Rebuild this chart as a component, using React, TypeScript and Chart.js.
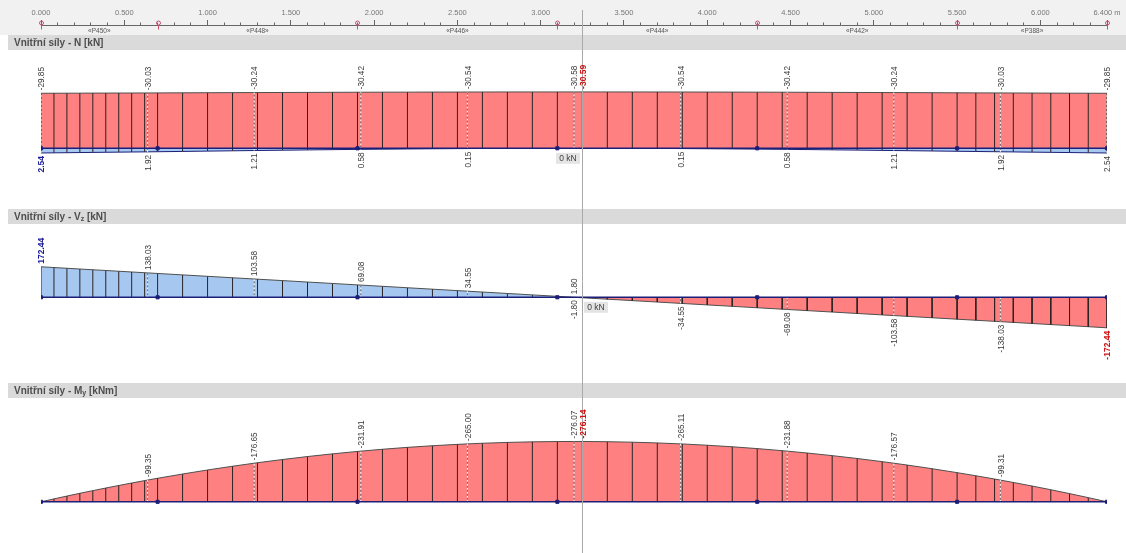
import React, { useEffect, useRef } from "react";
import { Chart, registerables } from "chart.js";

Chart.register(...registerables);

const W = 1126;
const H = 553;
const FONT = 'Arial, "Liberation Sans", sans-serif';

// ---------------- data ----------------
// division stations along the beam [m]
const stations = [
  0, 0.0778, 0.1556, 0.2333, 0.3111, 0.3889, 0.4667, 0.5444, 0.6222, 0.7,
  0.85, 1.0, 1.15, 1.3, 1.45, 1.6, 1.75, 1.9,
  2.05, 2.2, 2.35, 2.5, 2.65, 2.8, 2.95, 3.1,
  3.25, 3.4, 3.55, 3.7, 3.85, 4.0, 4.15, 4.3,
  4.45, 4.6, 4.75, 4.9, 5.05, 5.2, 5.35, 5.5,
  5.6125, 5.725, 5.8375, 5.95, 6.0625, 6.175, 6.2875, 6.4,
];

// N [kN] – minimum (red) and maximum (blue)
const nMin = [
  -29.85, -29.87, -29.89, -29.92, -29.94, -29.96, -29.98, -30.0, -30.02, -30.05,
  -30.1, -30.15, -30.2, -30.25, -30.29, -30.33, -30.38, -30.42,
  -30.45, -30.48, -30.51, -30.53, -30.55, -30.57, -30.58, -30.58,
  -30.59, -30.58, -30.57, -30.56, -30.54, -30.52, -30.49, -30.46,
  -30.43, -30.39, -30.34, -30.3, -30.26, -30.21, -30.16, -30.11,
  -30.07, -30.04, -30.01, -29.98, -29.94, -29.91, -29.88, -29.85,
];
const nMax = [
  2.54, 2.46, 2.39, 2.31, 2.23, 2.16, 2.08, 2.01, 1.94, 1.86,
  1.7, 1.53, 1.36, 1.19, 1.04, 0.88, 0.73, 0.59,
  0.47, 0.36, 0.26, 0.17, 0.1, 0.05, 0.02, 0.0,
  0.0, 0.01, 0.04, 0.08, 0.15, 0.23, 0.33, 0.44,
  0.56, 0.69, 0.83, 0.98, 1.13, 1.29, 1.45, 1.61,
  1.73, 1.85, 1.97, 2.08, 2.2, 2.31, 2.43, 2.54,
];
// Vz [kN]
const vz = [
  172.44, 168.25, 164.06, 159.88, 155.69, 151.5, 147.31, 143.12, 138.93, 134.75,
  126.67, 118.59, 110.51, 102.44, 94.36, 86.28, 78.2, 70.13,
  62.05, 53.97, 45.89, 37.82, 29.74, 21.66, 13.58, 5.5,
  -2.57, -10.65, -18.73, -26.81, -34.88, -42.96, -51.04, -59.12,
  -67.19, -75.27, -83.35, -91.43, -99.5, -107.58, -115.66, -123.74,
  -129.8, -135.85, -141.91, -147.97, -154.03, -160.08, -166.14, -172.44,
];
// My [kNm]
const my = [
  0, -13.26, -26.2, -38.79, -51.07, -63.02, -74.65, -85.94, -96.92, -107.57,
  -127.18, -145.58, -162.77, -178.74, -193.51, -207.05, -219.39, -230.51,
  -240.42, -249.11, -256.59, -262.86, -267.92, -271.76, -274.39, -275.8,
  -276.14, -275.0, -272.77, -269.33, -264.68, -258.82, -251.74, -243.45,
  -233.95, -223.23, -211.3, -198.16, -183.8, -168.23, -151.45, -133.45,
  -119.16, -104.18, -88.53, -72.19, -55.16, -37.46, -19.07, 0,
];

const nodes = [0, 0.7, 1.9, 3.1, 4.3, 5.5, 6.4];
const pipeNames = ["«P450»", "«P448»", "«P446»", "«P444»", "«P442»", "«P388»"];

// labelled result points
const labelStations = [0, 0.64, 1.28, 1.92, 2.56, 3.2, 3.84, 4.48, 5.12, 5.76, 6.4];
const nMinLabels = [-29.85, -30.03, -30.24, -30.42, -30.54, -30.58, -30.54, -30.42, -30.24, -30.03, -29.85];
const nMaxLabels = [2.54, 1.92, 1.21, 0.58, 0.15, 0, 0.15, 0.58, 1.21, 1.92, 2.54];
const vzLabels = [172.44, 138.03, 103.58, 69.08, 34.55, 1.8, -34.55, -69.08, -103.58, -138.03, -172.44];
const myLabels = [0, -99.35, -176.65, -231.91, -265.0, -276.07, -265.11, -231.88, -176.57, -99.31, 0];

const extremeStation = 3.25;
const nExtreme = -30.59;
const myExtreme = -276.14;
const vzZeroStation = 3.2;
const vzSplitLabel = -1.8;
const cursorStation = 3.25;

// ---------------- layout of the three diagram strips ----------------
// base: pixel row of the zero line, k: pixels per unit, reverse: negative values drawn upwards
const strips: Record<string, { base: number; k: number; reverse: boolean }> = {
  yN: { base: 148.3, k: 1.843, reverse: true },
  yV: { base: 297.3, k: 0.1769, reverse: false },
  yM: { base: 501.8, k: 0.2185, reverse: true },
};

// ---------------- styles ----------------
const RED = "rgb(255,128,128)";
const BLUE = "rgb(166,200,240)";
const NAVY = "#1c1f78";
const DIV = "#2a2424";
const EDGE = "#505050";
const LABEL = "#3a3a3a";
const BOLD_BLUE = "#1a1a9a";
const BOLD_RED = "#d01010";

type Pt = { x: number; y: number | null };
const pts = (xs: number[], ys: number[]): Pt[] => xs.map((x, i) => ({ x, y: ys[i] }));
function verticals(xs: number[], from: number[], to: number[]): Pt[] {
  const out: Pt[] = [];
  xs.forEach((x, i) => {
    out.push({ x, y: from[i] }, { x, y: to[i] }, { x, y: null });
  });
  return out;
}
const zerosLike = (a: number[]) => a.map(() => 0);

type Lbl = { axis: string; x: number; at: number; text: string; up: boolean; color?: string; bold?: boolean };

function buildLabels(): Lbl[] {
  const out: Lbl[] = [];
  labelStations.forEach((x, i) => {
    out.push({ axis: "yN", x, at: nMinLabels[i], text: nMinLabels[i].toFixed(2), up: true });
    if (i !== 5) {
      out.push({
        axis: "yN", x, at: nMaxLabels[i], text: nMaxLabels[i].toFixed(2), up: false,
        ...(i === 0 ? { color: BOLD_BLUE, bold: true } : {}),
      });
    }
    const v = vzLabels[i];
    const extra = i === 0 ? { color: BOLD_BLUE, bold: true } : i === 10 ? { color: BOLD_RED, bold: true } : {};
    out.push({ axis: "yV", x, at: i === 5 ? 0 : v, text: v.toFixed(2), up: v > 0, ...extra });
    if (i > 0 && i < 10) {
      out.push({ axis: "yM", x, at: myLabels[i], text: myLabels[i].toFixed(2), up: true });
    }
  });
  out.push({ axis: "yV", x: vzZeroStation, at: 0, text: vzSplitLabel.toFixed(2), up: false });
  out.push({ axis: "yN", x: extremeStation, at: nExtreme, text: nExtreme.toFixed(2), up: true, color: BOLD_RED, bold: true });
  out.push({ axis: "yM", x: extremeStation, at: myExtreme, text: myExtreme.toFixed(2), up: true, color: BOLD_RED, bold: true });
  return out;
}

const headers: { top: number; parts: [string, boolean][] }[] = [
  { top: 35, parts: [["Vnitřní síly - N [kN]", false]] },
  { top: 209, parts: [["Vnitřní síly - V", false], ["z", true], [" [kN]", false]] },
  { top: 383, parts: [["Vnitřní síly - M", false], ["y", true], [" [kNm]", false]] },
];

const zeroBoxes = [
  { axis: "yN", x: 3.2, dx: -6, dy: 10 },
  { axis: "yV", x: 3.2, dx: 22, dy: 10 },
];

function makePlugin(labels: Lbl[]) {
  return {
    id: "decor",
    afterLayout(chart: any) {
      // fix each strip's value range so its zero line and scale land where the reference has them
      for (const id of Object.keys(strips)) {
        const s = chart.scales[id];
        const cfg = strips[id];
        const len = s.bottom - s.top;
        let min: number;
        if (cfg.reverse) min = -(cfg.base - s.top) / cfg.k;
        else min = -(s.bottom - cfg.base) / cfg.k;
        s.min = min;
        s.max = min + len / cfg.k;
        s.configure();
      }
    },
    beforeDraw(chart: any) {
      const ctx = chart.ctx;
      ctx.save();
      ctx.fillStyle = "#ffffff";
      ctx.fillRect(0, 0, W, H);
      ctx.fillStyle = "#f1f1f1";
      ctx.fillRect(0, 0, W, 35);
      for (const h of headers) {
        ctx.fillStyle = "#dadada";
        ctx.fillRect(8, h.top, W - 8, 15);
        let x = 14;
        const cy = h.top + 8;
        ctx.textBaseline = "middle";
        ctx.textAlign = "left";
        ctx.fillStyle = "#4d4d4d";
        for (const [t, sub] of h.parts) {
          ctx.font = sub ? `bold 7px ${FONT}` : `bold 10px ${FONT}`;
          ctx.fillText(t, x, sub ? cy + 2 : cy);
          x += ctx.measureText(t).width;
        }
      }
      ctx.restore();
    },
    afterDatasetsDraw(chart: any) {
      const ctx = chart.ctx;
      const xs = chart.scales.x;
      ctx.save();
      // cursor line
      const cx = Math.round(xs.getPixelForValue(cursorStation)) + 0.5;
      ctx.strokeStyle = "#a9a9a9";
      ctx.lineWidth = 1;
      ctx.beginPath();
      ctx.moveTo(cx, 10);
      ctx.lineTo(cx, H);
      ctx.stroke();

      // value labels
      for (const l of labels) {
        const ys = chart.scales[l.axis];
        const px = xs.getPixelForValue(l.x) + 1;
        const py = ys.getPixelForValue(l.at);
        ctx.save();
        ctx.translate(px, l.up ? py - 3 : py + 3);
        ctx.rotate(-Math.PI / 2);
        ctx.textAlign = l.up ? "left" : "right";
        ctx.textBaseline = "middle";
        ctx.font = l.bold ? `bold 8.5px ${FONT}` : `8.2px ${FONT}`;
        ctx.fillStyle = l.color || LABEL;
        ctx.fillText(l.text, 0, 0);
        ctx.restore();
      }
      // zero boxes
      for (const b of zeroBoxes) {
        const ys = chart.scales[b.axis];
        const bx = xs.getPixelForValue(b.x) + b.dx;
        const by = ys.getPixelForValue(0) + b.dy;
        ctx.fillStyle = "#e4e4e4";
        ctx.fillRect(bx - 12, by - 5.5, 24, 11);
        ctx.fillStyle = "#404040";
        ctx.font = `8.5px ${FONT}`;
        ctx.textAlign = "center";
        ctx.textBaseline = "middle";
        ctx.fillText("0 kN", bx, by);
      }
      ctx.restore();
    },
    afterDraw(chart: any) {
      const ctx = chart.ctx;
      const xs = chart.scales.x;
      ctx.save();
      // support markers on the ruler
      ctx.strokeStyle = "#c8506e";
      ctx.lineWidth = 1;
      for (const n of nodes) {
        const x = Math.round(xs.getPixelForValue(n)) + 0.5;
        ctx.beginPath();
        ctx.moveTo(x, 25);
        ctx.lineTo(x, 29.5);
        ctx.stroke();
        ctx.beginPath();
        ctx.arc(x, 23, 2, 0, Math.PI * 2);
        ctx.stroke();
      }
      // pipe names
      ctx.fillStyle = "#555";
      ctx.font = `6.5px ${FONT}`;
      ctx.textAlign = "center";
      ctx.textBaseline = "middle";
      for (let i = 0; i < pipeNames.length; i++) {
        const x = (xs.getPixelForValue(nodes[i]) + xs.getPixelForValue(nodes[i + 1])) / 2;
        ctx.fillText(pipeNames[i], x, 31);
      }
      ctx.restore();
    },
  };
}

function lineDs(axis: string, data: Pt[], extra: any = {}) {
  return {
    type: "line",
    yAxisID: axis,
    data,
    pointRadius: 0,
    borderWidth: 1,
    fill: false,
    spanGaps: false,
    tension: 0,
    ...extra,
  };
}

export default function App() {
  const ref = useRef<HTMLCanvasElement>(null);

  useEffect(() => {
    document.body.style.margin = "0";
    const canvas = ref.current!;
    const labels = buildLabels();

    const dotted = (axis: string, xs: number[], from: number[], to: number[]) => [
      lineDs(axis, verticals(xs, from, to), { borderColor: "#ffffff", borderDash: [2, 2], order: 5 }),
      lineDs(axis, verticals(xs, from, to), { borderColor: "#707070", borderDash: [2, 2], borderDashOffset: 2, order: 4 }),
    ];
    const inner = labelStations.slice(1, 10);
    const innerZeros = zerosLike(inner);

    const datasets: any[] = [
      // filled diagrams
      lineDs("yN", pts(stations, nMin), { fill: "origin", backgroundColor: RED, borderColor: EDGE, order: 10 }),
      lineDs("yN", pts(stations, nMax), { fill: "origin", backgroundColor: BLUE, borderColor: NAVY, order: 10 }),
      lineDs("yV", pts(stations, vz), { fill: { target: "origin", above: BLUE, below: RED }, borderColor: EDGE, order: 10 }),
      lineDs("yM", pts(stations, my), { fill: "origin", backgroundColor: RED, borderColor: EDGE, order: 10 }),
      // division lines
      lineDs("yN", verticals(stations, nMax, nMin), { borderColor: DIV, order: 6 }),
      lineDs("yV", verticals(stations, zerosLike(stations), vz), { borderColor: DIV, order: 6 }),
      lineDs("yM", verticals(stations, zerosLike(stations), my), { borderColor: DIV, order: 6 }),
      // dotted result lines
      ...dotted("yN", labelStations, nMaxLabels, nMinLabels),
      ...dotted("yV", inner, innerZeros, vzLabels.slice(1, 10)),
      ...dotted("yM", inner, innerZeros, myLabels.slice(1, 10)),
      // base lines
      lineDs("yN", pts([0, 6.4], [0, 0]), { borderColor: NAVY, borderWidth: 1.5, order: 2 }),
      lineDs("yV", pts([0, 6.4], [0, 0]), { borderColor: NAVY, borderWidth: 1.5, order: 2 }),
      lineDs("yM", pts([0, 6.4], [0, 0]), { borderColor: NAVY, borderWidth: 1.5, order: 2 }),
      // nodes
      ...["yN", "yV", "yM"].map((ax) =>
        lineDs(ax, pts(nodes, zerosLike(nodes)), {
          showLine: false,
          pointRadius: 2.2,
          pointStyle: "rect",
          pointBackgroundColor: NAVY,
          pointBorderColor: NAVY,
          order: 1,
        })
      ),
    ];

    const chart = new Chart(canvas, {
      type: "line",
      data: { datasets },
      options: {
        responsive: false,
        animation: false,
        devicePixelRatio: 1,
        events: [],
        layout: { padding: { left: 41, right: 19, top: 0, bottom: 0 } },
        plugins: { legend: { display: false }, tooltip: { enabled: false } },
        scales: {
          x: {
            type: "linear",
            position: "top",
            min: 0,
            max: 6.4,
            bounds: "data",
            afterFit: (s: any) => {
              s.height = 25;
            },
            border: { display: true, color: "#666", width: 1 },
            grid: {
              drawOnChartArea: false,
              drawTicks: true,
              tickLength: 5,
              tickColor: "#666",
              tickBorderDash: (c: any) => {
                const r = Math.round((c.tick ? c.tick.value : 0) * 10);
                return r % 5 === 0 || r === 64 ? [] : [0, 2.5, 2.5, 20];
              },
            },
            ticks: {
              stepSize: 0.1,
              maxTicksLimit: 100,
              autoSkip: false,
              maxRotation: 0,
              minRotation: 0,
              padding: 3,
              color: "#777",
              font: { size: 7.5, family: FONT },
              callback: (v: any) => {
                const r = Math.round(Number(v) * 10);
                if (r === 64) return "6.400 m";
                return r % 5 === 0 ? (r / 10).toFixed(3) : "";
              },
            },
          },
          yN: { type: "linear", display: false, reverse: true, min: -66.74, max: 219.75, bounds: "data" },
          yV: { type: "linear", display: false, min: -1447.2, max: 1537.5, bounds: "data" },
          yM: { type: "linear", display: false, reverse: true, min: -2188.1, max: 233.9, bounds: "data" },
        },
      } as any,
      plugins: [makePlugin(labels)],
    } as any);

    return () => chart.destroy();
  }, []);

  return (
    <div style={{ position: "absolute", left: 0, top: 0, width: W, height: H, background: "#fff" }}>
      <canvas ref={ref} width={W} height={H} style={{ display: "block", width: W, height: H }} />
    </div>
  );
}
